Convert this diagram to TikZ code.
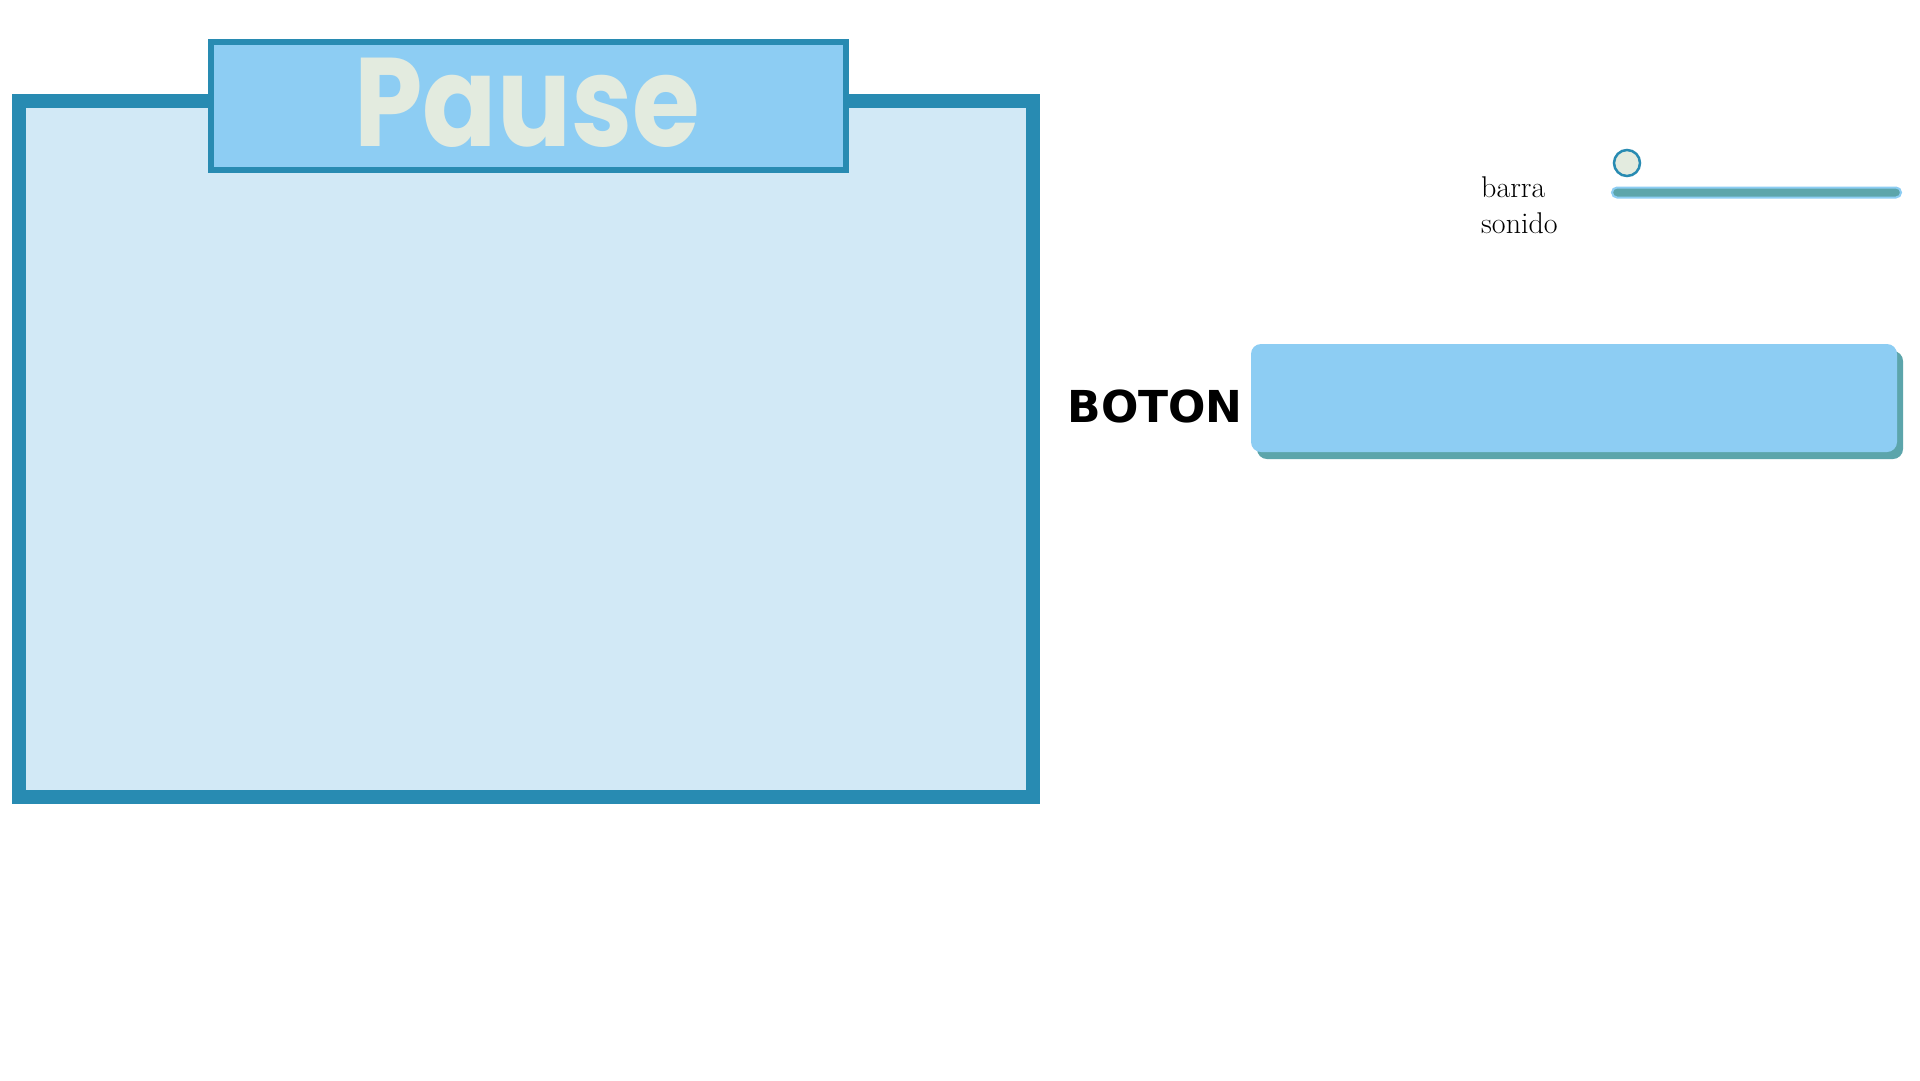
\documentclass[tikz,border=0pt]{standalone}
\usepackage{fontspec}
\usepackage{xcolor}
\usepackage{tikz}
\usetikzlibrary{positioning}
\newfontfamily\titlefont{Poppins}
\newfontfamily\pixfont{DejaVu Sans}
\definecolor{frame}{HTML}{288BB2}
\definecolor{sky}{HTML}{8DCDF3}
\definecolor{pale}{HTML}{D2E9F6}
\definecolor{cream}{HTML}{E3EBDF}
\definecolor{teal}{HTML}{5CA5AB}
\tikzset{
  panel/.style={draw=frame, fill=pale, line width=14pt, inner sep=0pt, outer sep=0pt},
  banner/.style={draw=frame, fill=sky, line width=6pt, inner sep=0pt, outer sep=0pt},
  btn/.style={fill=sky, rounded corners=10pt, inner sep=0pt, outer sep=0pt,
              minimum width=646pt, minimum height=108pt},
  btnshadow/.style={btn, fill=teal},
  knob/.style={circle, draw=frame, fill=cream, line width=2.5pt, inner sep=0pt, minimum size=26pt},
  track/.style={draw=sky, fill=teal, line width=2pt, rounded corners=5pt, inner sep=0pt,
                minimum width=289pt, minimum height=10pt},
  lab/.style={text=black, font=\fontsize{30}{36}\selectfont, inner sep=0pt},
  btnlab/.style={text=black, font=\pixfont\bfseries\fontsize{44}{44}\selectfont, inner sep=0pt},
  titletext/.style={text=cream, font=\titlefont\bfseries\fontsize{126}{126}\selectfont, inner sep=0pt}
}
\begin{document}
\begin{tikzpicture}[x=1pt, y=-1pt]
  \useasboundingbox[fill=white] (0,0) rectangle (1920,1080);

  % pause window
  \node[panel, minimum width=1014pt, minimum height=696pt] (window) at (526,449) {};
  \node[banner, minimum width=635pt, minimum height=128pt] (banner) at (528.5,106) {};
  \node[titletext, anchor=base] (pause) at (527,146) {\scalebox{0.87}[1]{Pause}};

  % sound slider
  \node[track] (bar) at (1756.5,192.5) {};
  \node[knob] (knob) at (1627,163) {};
  \node[lab, align=left, anchor=base west] (barlab) at (1481,233.3) {barra\\sonido};

  % button
  \node[btnshadow] (btnback) at (1580,405) {};
  \node[btn] (button) at (1574,398) {};
  \node[btnlab, left=8pt of button, yshift=-8pt] (btnlab) {BOTON};
\end{tikzpicture}
\end{document}
